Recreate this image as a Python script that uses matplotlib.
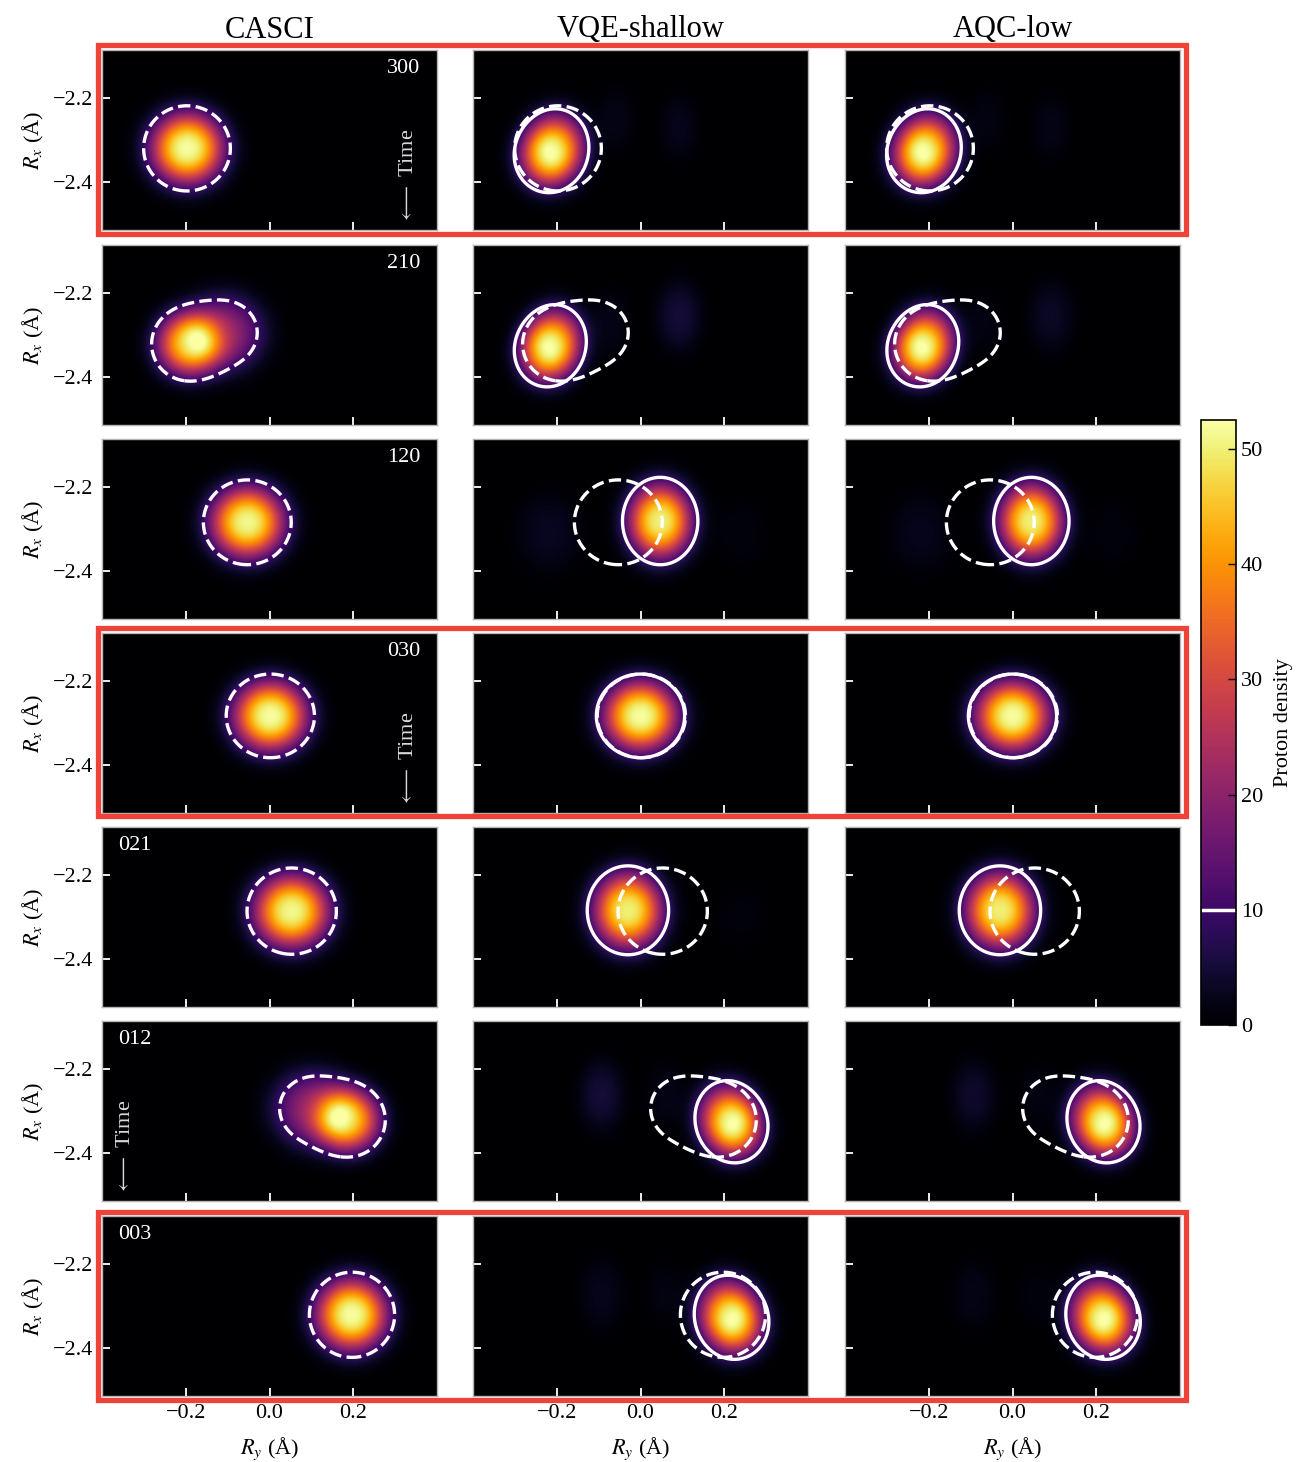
import numpy as np
import matplotlib
matplotlib.use('Agg')
from matplotlib import pyplot as plt
from matplotlib.patches import Rectangle

plt.rcParams['font.family'] = 'serif'
plt.rcParams['font.serif'] = ['Liberation Serif', 'DejaVu Serif']
plt.rcParams['mathtext.fontset'] = 'stix'

# Snapshot labels (top to bottom) and the three methods
row_tags = ['300', '210', '120', '030', '021', '012', '003']
method_names = ['CASCI', 'VQE-shallow', 'AQC-low']

# Each density is a sum of smooth bumps:
# (Ry centre, Rx centre, width along Ry, width along Rx, tilt in degrees, height)
casci_parts = [
    [(-0.197, -2.320, 0.057, 0.056, 0, 52.0)],
    [(-0.195, -2.322, 0.050, 0.050, 0, 42.0), (-0.112, -2.296, 0.062, 0.058, 10, 21.0)],
    [(-0.053, -2.284, 0.058, 0.056, 0, 51.0)],
    [(0.002, -2.283, 0.058, 0.055, 0, 52.0)],
    [(0.053, -2.286, 0.059, 0.057, 0, 51.0)],
    [(0.190, -2.322, 0.050, 0.050, 0, 42.0), (0.107, -2.296, 0.062, 0.058, -10, 21.0)],
    [(0.197, -2.321, 0.056, 0.056, 0, 52.0)],
]

vqe_parts = [
    [(-0.207, -2.322, 0.048, 0.056, -10, 42.0), (-0.235, -2.345, 0.045, 0.048, 0, 12.0),
     (-0.058, -2.250, 0.030, 0.050, 0, 2.0), (0.093, -2.270, 0.030, 0.050, 0, 2.5)],
    [(-0.210, -2.322, 0.046, 0.055, -12, 42.0), (-0.238, -2.345, 0.043, 0.047, 0, 12.0),
     (0.093, -2.255, 0.035, 0.055, 0, 5.0), (-0.070, -2.270, 0.030, 0.050, 0, 2.0)],
    [(0.047, -2.281, 0.050, 0.058, 0, 50.0),
     (-0.220, -2.310, 0.050, 0.060, 0, 3.0), (0.240, -2.310, 0.040, 0.050, 0, 1.2)],
    [(0.000, -2.283, 0.058, 0.055, 0, 52.0)],
    [(-0.030, -2.284, 0.054, 0.059, 0, 50.0), (0.240, -2.300, 0.040, 0.050, 0, 1.0)],
    [(0.212, -2.322, 0.047, 0.055, 12, 42.0), (0.240, -2.345, 0.043, 0.047, 0, 12.0),
     (-0.093, -2.262, 0.035, 0.055, 0, 5.0), (0.060, -2.260, 0.030, 0.050, 0, 2.0)],
    [(0.212, -2.323, 0.048, 0.056, 10, 42.0), (0.240, -2.348, 0.045, 0.048, 0, 12.0),
     (-0.093, -2.272, 0.035, 0.055, 0, 2.5), (0.058, -2.270, 0.030, 0.050, 0, 1.5)],
]

aqc_parts = [
    [(-0.206, -2.322, 0.048, 0.056, -10, 42.0), (-0.234, -2.345, 0.045, 0.048, 0, 12.0),
     (-0.058, -2.250, 0.030, 0.050, 0, 1.5), (0.093, -2.270, 0.030, 0.050, 0, 2.0)],
    [(-0.209, -2.322, 0.046, 0.055, -12, 42.0), (-0.236, -2.345, 0.043, 0.047, 0, 12.0),
     (0.093, -2.255, 0.035, 0.055, 0, 3.5), (-0.070, -2.270, 0.030, 0.050, 0, 1.5)],
    [(0.045, -2.281, 0.050, 0.058, 0, 50.0),
     (-0.220, -2.310, 0.050, 0.060, 0, 2.5), (0.240, -2.310, 0.040, 0.050, 0, 1.2)],
    [(0.000, -2.283, 0.058, 0.055, 0, 52.0)],
    [(-0.030, -2.284, 0.054, 0.059, 0, 50.0)],
    [(0.212, -2.322, 0.047, 0.055, 12, 42.0), (0.240, -2.345, 0.043, 0.047, 0, 12.0),
     (-0.093, -2.262, 0.035, 0.055, 0, 4.0), (0.060, -2.260, 0.030, 0.050, 0, 1.5)],
    [(0.211, -2.323, 0.048, 0.056, 10, 42.0), (0.238, -2.348, 0.045, 0.048, 0, 12.0),
     (-0.093, -2.272, 0.035, 0.055, 0, 2.0), (0.058, -2.270, 0.030, 0.050, 0, 1.0)],
]

boxed_rows = [0, 3, 6]
contour_level = 10
density_max = 52.5
flatness = 1.3

ry = np.linspace(-0.4, 0.4, 241)
rx = np.linspace(-2.515, -2.085, 131)
RY, RX = np.meshgrid(ry, rx)


def density(parts):
    # bumps with a slightly flattened top; with flatness=1 these are plain Gaussians
    q0 = 2 * np.log(52.0 / contour_level)
    z = np.zeros_like(RY)
    for y0, x0, su, sv, tilt, h in parts:
        t = np.deg2rad(tilt)
        dy = RY - y0
        dx = RX - x0
        u = dy * np.cos(t) + dx * np.sin(t)
        v = -dy * np.sin(t) + dx * np.cos(t)
        q = (u / su) ** 2 + (v / sv) ** 2
        z += h * np.exp(-0.5 * q0 * (q / q0) ** flatness)
    return z


W, H = 1298, 1462
fig = plt.figure(figsize=(W / 100, H / 100), dpi=100)

col_left = [102, 473, 845]
row_top = [50, 245, 439, 633, 827, 1021, 1216]
pw, ph = 335, 180

all_parts = [casci_parts, vqe_parts, aqc_parts]
im = None
for r in range(7):
    ref = density(casci_parts[r])
    for c in range(3):
        ax = fig.add_axes([col_left[c] / W, 1 - (row_top[r] + ph) / H, pw / W, ph / H])
        z = density(all_parts[c][r])
        im = ax.imshow(z, origin='lower', extent=[-0.4, 0.4, -2.515, -2.085],
                       aspect='auto', cmap='inferno', vmin=0, vmax=density_max,
                       interpolation='bilinear')
        if c > 0:
            ax.contour(RY, RX, z, levels=[contour_level], colors='w',
                       linewidths=2.4, linestyles='-')
        ax.contour(RY, RX, ref, levels=[contour_level], colors='w',
                   linewidths=2.4, linestyles='--')
        ax.set_xlim(-0.4, 0.4)
        ax.set_ylim(-2.515, -2.085)
        ax.set_xticks([-0.2, 0.0, 0.2])
        ax.set_yticks([-2.2, -2.4])
        ax.tick_params(direction='in', color='w', length=6, width=1.3,
                       labelsize=16, pad=6)
        for s in ax.spines.values():
            s.set_color('#b4b4b4')
            s.set_linewidth(1.0)
        if c > 0:
            ax.set_yticklabels([])
        if r < 6:
            ax.set_xticklabels([])
        else:
            ax.set_xlabel(r'$R_y$ (Å)', fontsize=16, labelpad=9)
        if c == 0:
            ax.set_ylabel(r'$R_x$ (Å)', fontsize=16, labelpad=5)
            if r < 4:
                ax.text(0.95, 0.95, row_tags[r], transform=ax.transAxes, color='w',
                        fontsize=16, ha='right', va='top')
            else:
                ax.text(0.048, 0.95, row_tags[r], transform=ax.transAxes, color='w',
                        fontsize=16, ha='left', va='top')
            if r in (0, 3):
                ax.text(0.915, 0.30, r'$\longleftarrow$ Time', transform=ax.transAxes,
                        color='#d9d9d9', fontsize=16, rotation=90, ha='center', va='center')
            if r == 5:
                ax.text(0.07, 0.30, r'$\longleftarrow$ Time', transform=ax.transAxes,
                        color='#d9d9d9', fontsize=16, rotation=90, ha='center', va='center')
        if r == 0:
            ax.set_title(method_names[c], fontsize=22, pad=9)

# red frames around the selected rows
for r in boxed_rows:
    x0, x1 = 97.5, 1185.5
    y0, y1 = row_top[r] - 4.5, row_top[r] + ph + 3.5
    fig.patches.append(Rectangle((x0 / W, 1 - y1 / H), (x1 - x0) / W, (y1 - y0) / H,
                                 transform=fig.transFigure, fill=False,
                                 edgecolor='#ee4338', linewidth=3.8, zorder=10))

cax = fig.add_axes([1201 / W, 1 - 1025 / H, 35 / W, 605 / H])
cbar = fig.colorbar(im, cax=cax, ticks=[0, 10, 20, 30, 40, 50])
cbar.add_lines([contour_level], ['w'], [2.5])
cbar.ax.tick_params(direction='in', length=6, width=1.0, labelsize=16, color='k')
cbar.set_label('Proton density', fontsize=16, labelpad=8)
cbar.outline.set_linewidth(1.2)

fig.savefig('out.png', dpi=100)
